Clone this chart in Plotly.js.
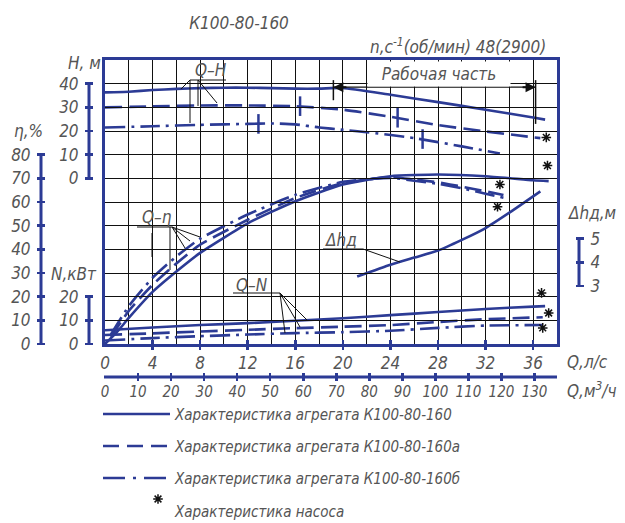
<!DOCTYPE html>
<html><head><meta charset="utf-8">
<script src="https://cdn.plot.ly/plotly-3.0.1.min.js"></script>
<style>html,body{margin:0;padding:0;background:#fff}#c{width:625px;height:523px}</style>
</head><body><div id="c"></div>
<script>
// ---------- data (Q in l/s) ----------
const qTicks = [0,4,8,12,16,20,24,28,32,36];
const qM3Ticks = [0,10,20,30,40,50,60,70,80,90,100,110,120,130];
const hTicks = [0,10,20,30,40];
const etaTicks = [0,10,20,30,40,50,60,70,80];
const nTicks = [0,10,20];
const dhTicks = [3,4,5];

// Q-H
const qH0 = [0,2,4,6,8,10,12,14,16,18,20,24,28,32,36,37];
const hH0 = [36.3,36.6,37.3,37.8,38.1,38.3,38.3,38.1,37.9,37.9,38.2,35.3,32.2,29.0,25.7,24.8];
const qHa = [0,4,8,12,16,20,24,28,32,36.6];
const hHa = [30.0,30.4,30.8,30.8,30.5,29.0,26.0,22.5,19.8,17.0];
const qHb = [0,4,8,12,14,16,18,20,22,26,30,33.2];
const hHb = [21.5,22.0,22.6,23.0,23.2,22.8,21.5,20.5,19.5,17.0,13.5,10.5];
// Q-eta
const qE0 = [0,1,2,4,6,8,12,16,20,24,28,32,36,37.3];
const eE0 = [0,5,11,22,30.6,38.5,51,60.3,67.4,70.9,71.6,70.9,69.2,68.8];
const qEa = [0.5,2,4,6,8,12,16,20,24,26,28,30,32,33.5];
const eEa = [3,14,25,34,42,52.5,61.7,68,70.5,69.5,68.3,66.5,64.5,63];
const qEb = [0.5,2,4,6,8,12,16,20,24,26,28,30,32,33.5];
const eEb = [4,16,28,37,44.5,54.7,63,68.5,70.2,69,67.7,65.8,63.5,61.8];
// Q-N
const qN0 = [0,4,8,12,16,20,24,28,32,36,37];
const nN0 = [5.8,7.0,8.0,8.8,9.8,10.9,12.2,13.5,14.8,15.8,16.0];
const qNa = [0,4,8,12,16,20,24,28,32,36.8];
const nNa = [3.8,4.5,5.3,6.0,6.7,7.3,8.0,9.3,10.5,11.3];
const qNb = [0,4,8,12,16,20,24,28,32,36.8];
const nNb = [1.5,2.5,3.3,4.0,4.6,5.0,5.6,6.8,7.8,8.0];
// Q-dh
const qDh = [21.2,24,26,28,30,32,34,36.6];
const dhV = [3.4,3.9,4.2,4.5,4.95,5.45,6.1,7.0];
// pump points (*)
const pumpEtaQ = [37.2,33.2,33.0];
const pumpEta = [75.4,67.4,58.0];
const pumpNQ = [36.7,37.3,36.8];
const pumpN = [21.6,13.1,6.8];
const pumpHQ = [37.1];
const pumpH = [17.3];
// working range marks on Q-H curves
const workQa = [16.4,24.6];
const workHa = [30.5,25.6];
const workQb = [12.9,26.7];
const workHb = [23.0,16.6];
const workRange = [19.2,36.2];

// ---------- layout helpers ----------
const W=625, H=523;
const px = x => x/W;
const py = y => 1 - y/H;
const BLUE = '#2c3b95';
const TXT = '#555';
const FAM = "'Liberation Sans Narrow','DejaVu Sans Condensed','Liberation Sans',sans-serif";
const F = (s,c) => ({family:FAM, size:s||17, color:c||TXT, style:'italic'});
const DASH = '17px,7px';
const DASHDOT = '20px,6px,3px,6px';

const ln = (x,y,dash,ya) => ({x:x,y:y,type:'scatter',mode:'lines',xaxis:'x',yaxis:ya,
  line:{color:BLUE,width:2.6,dash:dash||'solid',shape:'spline',smoothing:0.5},hoverinfo:'skip',showlegend:false});
const star = (x,y,ya,xa) => ({x:x,y:y,type:'scatter',mode:'markers',xaxis:xa||'x',yaxis:ya,
  marker:{symbol:'asterisk-open',size:8,color:'#111',line:{color:'#111',width:1.5}},showlegend:false,hoverinfo:'skip',cliponaxis:false});
const mark = (x,y) => ({x:x,y:y,type:'scatter',mode:'markers',xaxis:'x',yaxis:'y2',
  marker:{symbol:'line-ns-open',size:14,color:BLUE,line:{color:BLUE,width:2.5}},showlegend:false,hoverinfo:'skip'});

const data = [
  ln(qH0,hH0,'solid','y2'), ln(qHa,hHa,DASH,'y2'), ln(qHb,hHb,DASHDOT,'y2'),
  ln(qE0,eE0,'solid','y3'), ln(qEa,eEa,DASH,'y3'), ln(qEb,eEb,DASHDOT,'y3'),
  ln(qN0,nN0,'solid','y4'), ln(qNa,nNa,DASH,'y4'), ln(qNb,nNb,DASHDOT,'y4'),
  ln(qDh,dhV,'solid','y5'),
  mark(workQa,workHa), mark(workQb,workHb),
  star(pumpEtaQ,pumpEta,'y3'), star(pumpNQ,pumpN,'y4'), star(pumpHQ,pumpH,'y2'),
  // carriers so that the two lower Q axes get drawn (no visible marks)
  {x:qTicks,y:qTicks.map(()=>null),type:'scatter',mode:'lines',xaxis:'x3',yaxis:'y',showlegend:false,hoverinfo:'skip'},
  {x:qM3Ticks,y:qM3Ticks.map(()=>null),type:'scatter',mode:'lines',xaxis:'x2',yaxis:'y',showlegend:false,hoverinfo:'skip'}
];

// legend (own hidden pixel-space subplot)
const legRows = [
  {y:414, dash:'solid', text:'Характеристика агрегата К100-80-160'},
  {y:446, dash:'16px,8px', text:'Характеристика агрегата К100-80-160а'},
  {y:478, dash:'22px,8px,3px,8px', text:'Характеристика агрегата К100-80-160б'}
];
legRows.forEach(r => data.push({x:[103,170],y:[r.y,r.y],type:'scatter',mode:'lines',xaxis:'x4',yaxis:'y6',
  line:{color:BLUE,width:2.6,dash:r.dash},showlegend:false,hoverinfo:'skip'}));
data.push(star([158],[499],'y6','x4'));

const ann = [];
const A = (text,x,y,xa,s,extra) => ann.push(Object.assign({text:text,xref:'paper',yref:'paper',x:px(x),y:py(y),xanchor:xa||'left',yanchor:'middle',showarrow:false,font:F(s||17)},extra||{}));
A('n,с<sup>-1</sup>(об/мин) 48(2900)',368,46);
A('H, м',66,63);
A('η,%',12,131);
A('N,кВт',49,274);
A('Δhд,м',566,213);
A('Q,л/с',565,362);
A('Q,м<sup>3</sup>/ч',565,390);
A('Q–H',193,70);
A('Q–η',140,217);
A('Q–N',234,285);
A('Δhд',323,240);
A('Рабочая часть',439,74,'center',17,{bgcolor:'#fff',width:142,height:24,borderpad:0});
legRows.forEach(r => A(r.text,172,r.y+1,'left',15));
A('Характеристика насоса',172,512,'left',15);
// arrows of the working range
const wy = 108.5;
ann.push({xref:'x',yref:'y',x:workRange[0],y:wy,ax:16,ay:0,text:' ',showarrow:true,arrowhead:2,arrowsize:1,arrowwidth:2,arrowcolor:'#111'});
ann.push({xref:'x',yref:'y',x:workRange[1],y:wy,ax:-16,ay:0,text:' ',showarrow:true,arrowhead:2,arrowsize:1,arrowwidth:2,arrowcolor:'#111'});

const shp = [];
const bar = (x,yref,a,b) => shp.push({type:'line',xref:'paper',yref:yref,x0:px(x),x1:px(x),y0:a,y1:b,line:{color:BLUE,width:3}});
bar(89,'y2',0,40); bar(41,'y3',0,80); bar(89,'y4',0,20); bar(579,'y5',3,5);
shp.push({type:'line',xref:'paper',yref:'paper',x0:px(104),x1:px(557),y0:py(377),y1:py(377),line:{color:BLUE,width:3}});
// working range
shp.push({type:'line',xref:'x',yref:'y',x0:workRange[0],x1:workRange[1],y0:wy,y1:wy,line:{color:'#111',width:1.2}});
shp.push({type:'line',xref:'x',yref:'y',x0:workRange[0],x1:workRange[0],y0:103,y1:111.5,line:{color:'#111',width:1.5}});
shp.push({type:'line',xref:'x',yref:'y',x0:workRange[1],x1:workRange[1],y0:93,y1:111.5,line:{color:'#111',width:1.5}});
// leader lines (pixel coords)
const L = (x0,y0,x1,y1) => shp.push({type:'line',xref:'paper',yref:'paper',x0:px(x0),y0:py(y0),x1:px(x1),y1:py(y1),line:{color:'#111',width:1}});
L(190,80,226,80); L(190,80,181,89); L(190,80,190,123); L(198,80,198,106); L(198,80,217,103);
L(137,227,172,227); L(172,227,200,237); L(172,227,190,241); L(172,227,185,248); L(170,227,170,270); L(152,233,152,257);
L(233,293,280,293); L(280,293,307,320); L(280,293,300,327); L(280,293,285,333);
L(323,249,363,249); L(363,249,400,262);

const xDom = [px(105), px(557)];
const yDom = [py(344), py(60)];
const baseY = {overlaying:'y',anchor:'free',showgrid:false,zeroline:false,showline:false,ticks:'outside',ticklen:8,tickwidth:2.5,tickcolor:BLUE,tickfont:F(17),tickmode:'array',ticklabelstandoff:3,fixedrange:true};
const baseX = {overlaying:'x',anchor:'free',side:'bottom',tickmode:'array',ticks:'inside',ticklen:10,tickwidth:2.5,tickcolor:BLUE,
  showgrid:false,zeroline:false,showline:false,tickfont:F(17),ticklabelstandoff:1,fixedrange:true};
const layout = {
  width:W,height:H,margin:{l:0,r:0,t:0,b:0},paper_bgcolor:'#fff',plot_bgcolor:'rgba(0,0,0,0)',
  showlegend:false,
  title:{text:'К100-80-160',x:px(239),y:py(23),xanchor:'center',yanchor:'middle',font:F(17)},
  xaxis:{domain:xDom,range:[0,38],dtick:2,tick0:0,showgrid:true,gridcolor:'#111',gridwidth:1,showticklabels:false,ticks:'',zeroline:false,
    showline:true,mirror:true,linecolor:BLUE,linewidth:3,anchor:'y',fixedrange:true},
  yaxis:{domain:yDom,range:[0,120],dtick:10,tick0:0,showgrid:true,gridcolor:'#111',gridwidth:1,showticklabels:false,ticks:'',zeroline:false,
    showline:true,mirror:true,linecolor:BLUE,linewidth:3,anchor:'x',fixedrange:true},
  xaxis3:Object.assign({},baseX,{position:py(350),range:[0,38],tickvals:qTicks}),
  xaxis2:Object.assign({},baseX,{position:py(381),range:[0,38*3.6],tickvals:qM3Ticks,ticklen:8,tickfont:F(15),ticklabelstandoff:0}),
  yaxis2:Object.assign({},baseY,{position:px(93),side:'left',range:[-70,50],tickvals:hTicks}),
  yaxis3:Object.assign({},baseY,{position:px(45),side:'left',range:[0,120],tickvals:etaTicks}),
  yaxis4:Object.assign({},baseY,{position:px(93),side:'left',range:[0,120],tickvals:nTicks}),
  yaxis5:Object.assign({},baseY,{position:px(575),side:'right',range:[3-2.45,15-2.45],tickvals:dhTicks}),
  xaxis4:{domain:[0,1],range:[0,W],visible:false,anchor:'y6',fixedrange:true},
  yaxis6:{domain:[0,py(402)],range:[H,402],visible:false,anchor:'x4',fixedrange:true},
  annotations:ann, shapes:shp
};
Plotly.newPlot('c',data,layout,{staticPlot:true,displayModeBar:false});
</script></body></html>
